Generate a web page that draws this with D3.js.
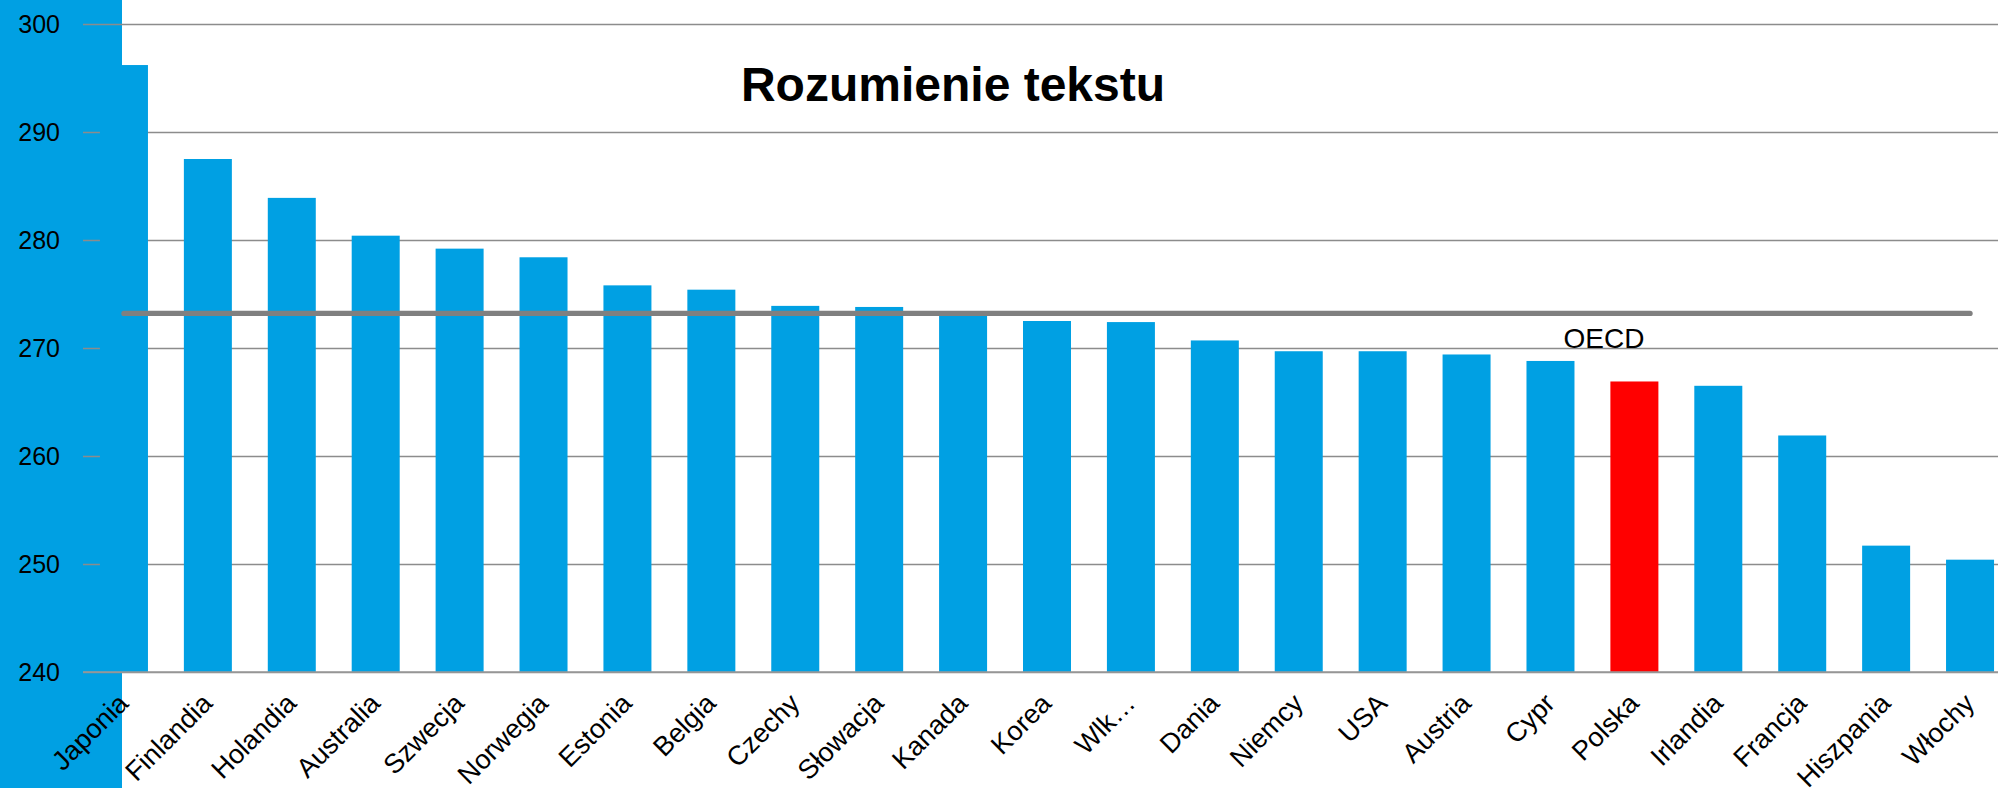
<!DOCTYPE html>
<html>
<head>
<meta charset="utf-8">
<script src="https://cdn.jsdelivr.net/npm/d3@7/dist/d3.min.js"></script>
<style>
html,body{margin:0;padding:0;background:#fff;}
svg{display:block;}
text{font-family:"Liberation Sans",Arial,sans-serif;}
</style>
</head>
<body>
<script>
const categories = ["Japonia","Finlandia","Holandia","Australia","Szwecja","Norwegia","Estonia","Belgia","Czechy","Słowacja","Kanada","Korea","Wlk…","Dania","Niemcy","USA","Austria","Cypr","Polska","Irlandia","Francja","Hiszpania","Włochy"];
const values = [296.2,287.5,283.9,280.4,279.2,278.4,275.8,275.4,273.9,273.8,273.3,272.5,272.4,270.7,269.7,269.7,269.4,268.8,266.9,266.5,261.9,251.7,250.4];
const highlight = ["Polska"];
const oecdValue = 273.2;
const oecdLabel = "OECD";
const yTicks = [240,250,260,270,280,290,300];
const title = "Rozumienie tekstu";

const W = 1998, H = 788;
const svg = d3.select("body").append("svg").attr("width", W).attr("height", H);

const x = d3.scaleBand().domain(categories).range([82, 2012]).paddingInner(0.428).paddingOuter(0.214);
const y = d3.scaleLinear().domain([240, 300]).range([672, 24]);

// left blue block
svg.append("rect").attr("x", 0).attr("y", 0).attr("width", 122).attr("height", H).attr("fill", "#00A0E3");

// gridlines + tick labels
const axis = d3.axisLeft(y).tickValues(yTicks).tickSize(-(W - 83)).tickSizeOuter(0).tickPadding(23).tickFormat(d3.format("d"));
const g = svg.append("g").attr("transform", "translate(83,0)").call(axis);
g.select(".domain").remove();
g.selectAll(".tick line").attr("stroke", "#8c8c8c").attr("stroke-width", 1.5);
g.selectAll(".tick text").attr("fill", "#000").attr("font-size", 25).attr("font-family", "'Liberation Sans',Arial,sans-serif");

// bars
svg.append("g").selectAll("rect").data(categories).join("rect")
  .attr("x", d => x(d))
  .attr("width", x.bandwidth())
  .attr("y", (d, i) => y(values[i]))
  .attr("height", (d, i) => y(240) - y(values[i]))
  .attr("fill", d => highlight.includes(d) ? "#FF0000" : "#00A0E3");

// baseline
svg.append("line").attr("x1", 83).attr("x2", W).attr("y1", y(240)).attr("y2", y(240))
  .attr("stroke", "#9a9a9a").attr("stroke-width", 1.5);

// OECD line
const first = categories[0], last = categories[categories.length - 1];
svg.append("line")
  .attr("x1", x(first) + x.bandwidth() / 2).attr("x2", x(last) + x.bandwidth() / 2)
  .attr("y1", y(oecdValue)).attr("y2", y(oecdValue))
  .attr("stroke", "#808080").attr("stroke-width", 5.3).attr("stroke-linecap", "round");
svg.append("text").text(oecdLabel)
  .attr("x", x("Cypr") + 37).attr("y", y(270))
  .attr("font-size", 28).attr("text-anchor", "start").attr("fill", "#000");

// category labels
svg.append("g").selectAll("text").data(categories).join("text")
  .text(d => d)
  .attr("text-anchor", "end")
  .attr("font-size", 27)
  .attr("fill", "#000")
  .attr("transform", d => `translate(${x(d) + x.bandwidth() / 2 + 6},${y(240) + 33}) rotate(-45)`);

// title
svg.append("text").text(title)
  .attr("x", 953).attr("y", 101)
  .attr("text-anchor", "middle").attr("font-weight", "bold").attr("font-size", 48).attr("fill", "#000");
</script>
</body>
</html>
